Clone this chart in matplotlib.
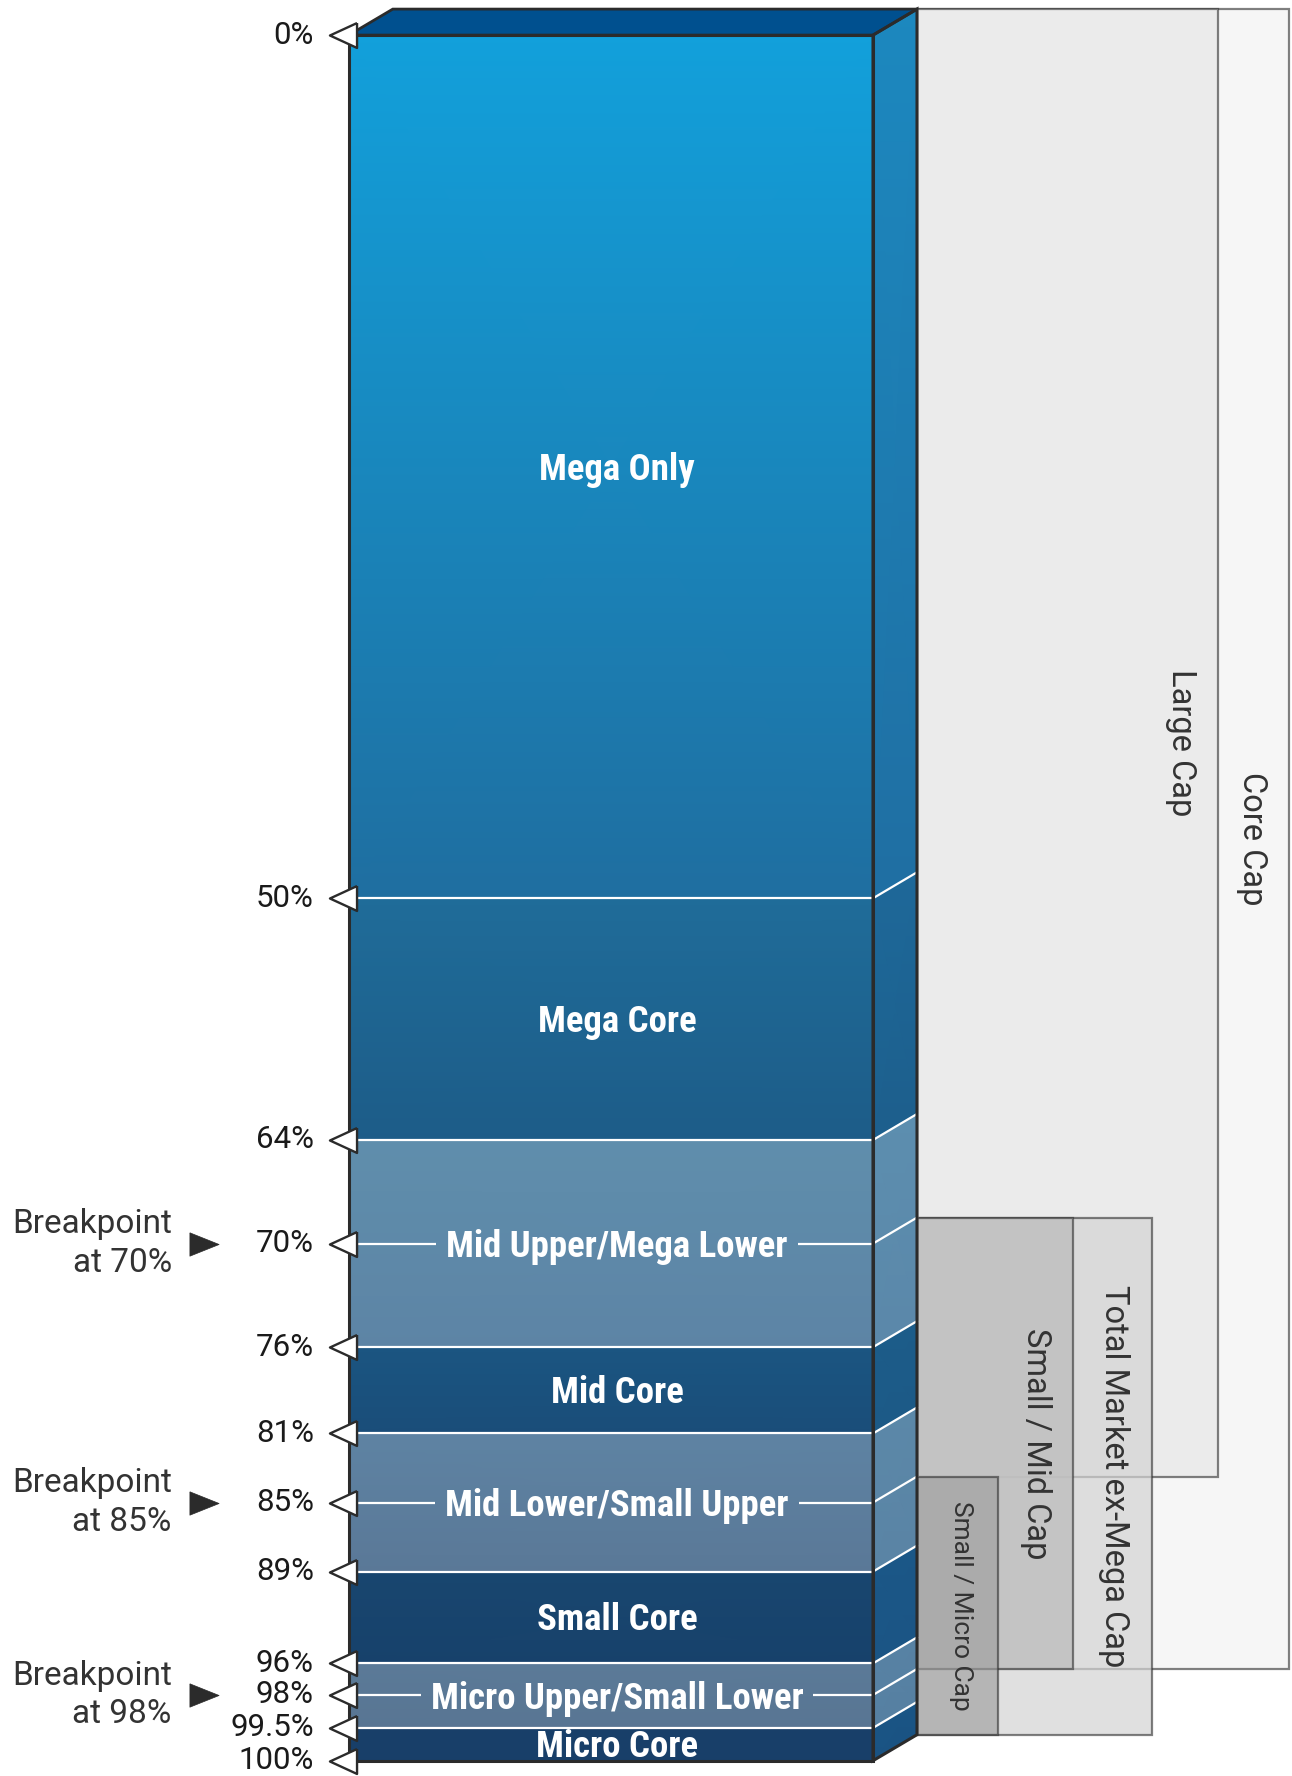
import numpy as np
import matplotlib
matplotlib.use("Agg")
import matplotlib.pyplot as plt
import matplotlib.transforms as mtransforms
from matplotlib.colors import LinearSegmentedColormap
from matplotlib.patches import Polygon, Rectangle
from matplotlib.markers import MarkerStyle
from matplotlib import font_manager as fm

# ---------------- data ----------------
segment_names = ["Mega Only", "Mega Core", "Mid Upper/Mega Lower", "Mid Core",
                 "Mid Lower/Small Upper", "Small Core", "Micro Upper/Small Lower", "Micro Core"]
segment_start = [0, 50, 64, 76, 81, 89, 96, 99.5]
segment_end = [50, 64, 76, 81, 89, 96, 99.5, 100]

tick_pcts = [0, 50, 64, 70, 76, 81, 85, 89, 96, 98, 99.5, 100]
tick_labels = ["0%", "50%", "64%", "70%", "76%", "81%", "85%", "89%",
               "96%", "98%", "99.5%", "100%"]

breakpoint_pcts = [70, 85, 98]
breakpoint_labels = ["Breakpoint\nat 70%", "Breakpoint\nat 85%", "Breakpoint\nat 98%"]

index_names = ["Core Cap", "Large Cap", "Total Market ex-Mega Cap",
               "Small / Mid Cap", "Small / Micro Cap"]
index_start = [0, 0, 70, 70, 85]
index_end = [98, 85, 100, 98, 100]

# ---------------- styles ----------------
front_top = ["#12A0DB", "#1F6C99", "#5F8EAC", "#1B5581", "#5E83A3", "#18466F", "#5B7A98", "#183F69"]
front_bot = ["#1F6EA0", "#1D5C88", "#5D84A5", "#1A4D79", "#5A7897", "#17416B", "#587593", "#183F69"]
side_top = ["#1C88BF", "#1E6899", "#5C8EAF", "#1C5C89", "#5B88A8", "#1B5787", "#5782A4", "#1A5585"]
side_bot = ["#1F6FA3", "#1D5F8D", "#5B88AA", "#1C5A87", "#5A84A5", "#1B5585", "#5680A2", "#1A5383"]
TOP_COLOR = "#00508F"
OUTLINE = "#2b2b2b"

box_face = [(0.965, 0.965, 0.965, 1.0), (0.922, 0.922, 0.922, 1.0),
            (0.827, 0.827, 0.827, 0.70), (0.753, 0.753, 0.753, 0.85),
            (0.616, 0.616, 0.616, 0.64)]
box_edge = (0.2, 0.2, 0.2, 0.62)
box_label_size = [23.5, 23.5, 23.5, 23.5, 19]

avail = {f.name for f in fm.fontManager.ttflist}
if "Roboto Condensed" in avail:
    BOLD_FAMILY, BOLD_SIZE = "Roboto Condensed", 26.5
elif "Liberation Sans Narrow" in avail:
    BOLD_FAMILY, BOLD_SIZE = "Liberation Sans Narrow", 27.5
else:
    BOLD_FAMILY, BOLD_SIZE = "Roboto", 24
LIGHT_FAMILY = "Roboto" if "Roboto" in avail else "DejaVu Sans"
TEXT_WEIGHT = "normal"

# ---------------- layout (pixels, dpi=100) ----------------
FIG_W, FIG_H = 1292, 1776
FRONT_L, FRONT_R, FRONT_T, FRONT_B = 348.8, 873.0, 35.1, 1760.7
W = FRONT_R - FRONT_L
DX, DY = 44.0, 26.0
box_right_px = [1288.5, 1218.4, 1151.5, 1073.4, 997.6]

# y-scale: linear down to 89%, the thin bottom bands are stretched for legibility
SCALE_PCT = [-100, 0, 89, 96, 98, 99.5, 100, 200]
SCALE_VIS = [-100, 0, 89.04, 94.36, 96.19, 98.10, 100, 200]


def fwd(p):
    return np.interp(p, SCALE_PCT, SCALE_VIS)


def inv(v):
    return np.interp(v, SCALE_VIS, SCALE_PCT)


fig = plt.figure(figsize=(FIG_W / 100, FIG_H / 100), dpi=100)
ax = fig.add_axes([FRONT_L / FIG_W, (FIG_H - FRONT_B) / FIG_H,
                   W / FIG_W, (FRONT_B - FRONT_T) / FIG_H])
ax.set_yscale("function", functions=(fwd, inv))
ax.set_xlim(0, W)
ax.set_ylim(100, 0)
ax.set_autoscale_on(False)
ax.axis("off")

IDENT = mtransforms.IdentityTransform()
back_tr = ax.transData + mtransforms.Affine2D().translate(DX, DY)
label_tr = ax.transData + mtransforms.Affine2D().translate(6, -3)


def front_px(x, p):
    return ax.transData.transform((x, p))


def back_px(x, p):
    return back_tr.transform((x, p))


def grad_mesh(X, Y, c0, c1, transform, z):
    cmap = LinearSegmentedColormap.from_list("g", [c0, c1])
    C = np.array([[0.0, 0.0], [1.0, 1.0]])
    ax.pcolormesh(np.array(X, float), np.array(Y, float), C, cmap=cmap, vmin=0, vmax=1,
                  shading="gouraud", transform=transform, zorder=z, clip_on=False,
                  antialiased=True)


# ---------------- index boxes (behind) ----------------
for i, name in enumerate(index_names):
    a, b = index_start[i], index_end[i]
    right = box_right_px[i] - FRONT_L - DX
    rect = Rectangle((W, a), right - W, b - a, transform=back_tr,
                     facecolor=box_face[i], edgecolor=box_edge, lw=1.6,
                     clip_on=False, zorder=1 + i)
    ax.add_patch(rect)
for i, name in enumerate(index_names):
    a, b = index_start[i], index_end[i]
    right = box_right_px[i] - FRONT_L - DX
    ymid = inv((fwd(a) + fwd(b)) / 2)
    ax.text(right - 37, ymid, name, transform=back_tr, rotation=270,
            ha="center", va="center", fontsize=box_label_size[i],
            family=LIGHT_FAMILY, weight=TEXT_WEIGHT, color="#333333", zorder=7)

# ---------------- front face ----------------
for i in range(len(segment_names)):
    a, b = segment_start[i], segment_end[i]
    grad_mesh([[0, W], [0, W]], [[a, a], [b, b]], front_top[i], front_bot[i],
              ax.transData, 8)

# ---------------- side face ----------------
for i in range(len(segment_names)):
    a, b = segment_start[i], segment_end[i]
    fa, fb = front_px(W, a), front_px(W, b)
    X = [[fa[0], fa[0] + DX], [fb[0], fb[0] + DX]]
    Y = [[fa[1], fa[1] + DY], [fb[1], fb[1] + DY]]
    grad_mesh(X, Y, side_top[i], side_bot[i], IDENT, 8)

# top face
pts = [front_px(0, 0), front_px(W, 0), back_px(W, 0), back_px(0, 0)]
ax.add_patch(Polygon(pts, closed=True, transform=IDENT, facecolor=TOP_COLOR,
                     edgecolor=OUTLINE, lw=2.0, joinstyle="miter", clip_on=False, zorder=9))

# ---------------- labels inside the bar ----------------
label_texts = []
for i, name in enumerate(segment_names):
    a, b = segment_start[i], segment_end[i]
    ymid = inv((fwd(a) + fwd(b)) / 2)
    t = ax.text(W / 2, ymid, name, ha="center", va="center", color="white",
                fontsize=BOLD_SIZE, family=BOLD_FAMILY, weight="bold", zorder=12,
                transform=label_tr)
    label_texts.append((ymid, t))

renderer = fig.canvas.get_renderer()

# white boundary lines on the front face
internal = [p for p in tick_pcts if 0 < p < 100]
for p in internal:
    if p in breakpoint_pcts:
        tt = min(label_texts, key=lambda lt: abs(fwd(lt[0]) - fwd(p)))[1]
        bb = tt.get_window_extent(renderer)
        x0 = ax.transData.inverted().transform((bb.x0, bb.y0))[0]
        x1 = ax.transData.inverted().transform((bb.x1, bb.y0))[0]
        gap = 10
        ax.plot([0, x0 - gap], [p, p], color="white", lw=1.6, zorder=10,
                solid_capstyle="butt")
        ax.plot([x1 + gap, W], [p, p], color="white", lw=1.6, zorder=10,
                solid_capstyle="butt")
    else:
        ax.plot([0, W], [p, p], color="white", lw=1.6, zorder=10, solid_capstyle="butt")
    f, bk = front_px(W, p), back_px(W, p)
    ax.plot([f[0], bk[0]], [f[1], bk[1]], color="white", lw=1.6, transform=IDENT,
            zorder=10, clip_on=False)

# outlines
ax.add_patch(Rectangle((0, 0), W, 100, facecolor="none", edgecolor=OUTLINE, lw=2.2,
                       clip_on=False, zorder=11))
side_pts = [front_px(W, 0), back_px(W, 0), back_px(W, 100), front_px(W, 100)]
ax.add_patch(Polygon(side_pts, closed=True, transform=IDENT, facecolor="none",
                     edgecolor=OUTLINE, lw=2.2, joinstyle="miter", clip_on=False, zorder=11))

# ---------------- tick markers and labels ----------------
tri_left = MarkerStyle([(1, 0.92), (-1, 0), (1, -0.92), (1, 0.92)])
ax.plot([-5.8] * len(tick_pcts), tick_pcts, ls="none", marker=tri_left, ms=19.5,
        mfc="white", mec=OUTLINE, mew=1.7, clip_on=False, zorder=13)
for p, lab in zip(tick_pcts, tick_labels):
    ax.text(-35, p, lab, ha="right", va="center", fontsize=22.5, family=LIGHT_FAMILY,
            weight=TEXT_WEIGHT, color="#1a1a1a", zorder=13)

tri_right = MarkerStyle([(-1, 0.8), (1, 0), (-1, -0.8), (-1, 0.8)])
ax.plot([-145] * len(breakpoint_pcts), breakpoint_pcts, ls="none", marker=tri_right,
        ms=21, mfc=OUTLINE, mec=OUTLINE, mew=0.5, clip_on=False, zorder=13)
for p, lab in zip(breakpoint_pcts, breakpoint_labels):
    ax.text(-177, p, lab, ha="right", va="center", multialignment="right",
            linespacing=1.25, fontsize=24, family=LIGHT_FAMILY, weight=TEXT_WEIGHT,
            color="#333333", zorder=13)

fig.savefig("out.png", dpi=100)
